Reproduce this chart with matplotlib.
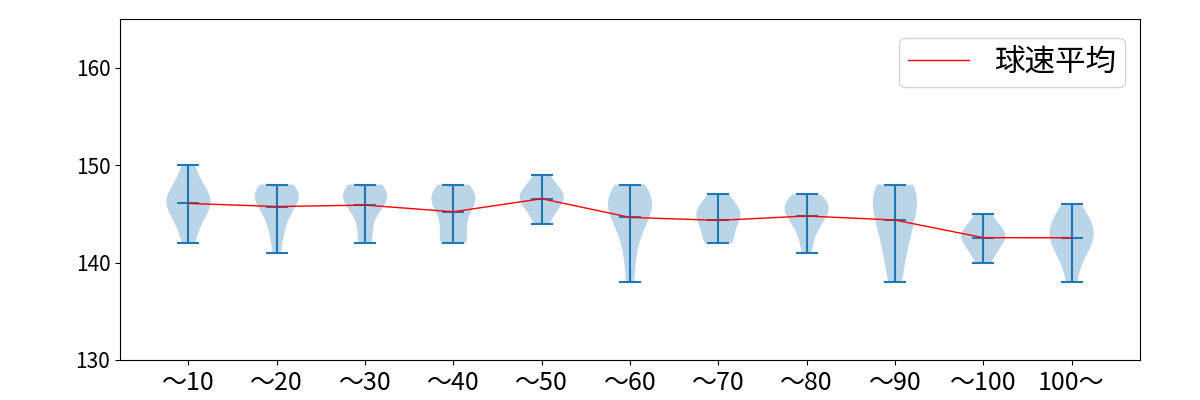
import matplotlib
matplotlib.use("Agg")
import matplotlib.pyplot as plt
import numpy as np

plt.rcParams['font.family'] = ['Noto Sans CJK JP', 'DejaVu Sans']

labels = ["〜10", "〜20", "〜30", "〜40", "〜50", "〜60", "〜70", "〜80", "〜90", "〜100", "100〜"]

s10 = [142, 143, 144, 145, 145, 146, 146, 146, 147, 147, 147, 148, 149, 150]
s20 = [141, 143, 144, 145, 146, 146, 147, 147, 147, 147, 148, 148]
s30 = [142, 143, 145, 146, 146, 147, 147, 147, 148, 148]
s40 = [142, 142, 142, 143, 144, 145, 146, 146, 146, 147, 147, 147, 148, 148]
s50 = [144, 145, 146, 146, 147, 147, 147, 148, 149]
s60 = [138, 141, 143, 144, 145, 146, 146, 146, 147, 147, 148]
s70 = [142, 142, 143, 144, 145, 145, 145, 146, 147]
s80 = [141, 143, 144, 145, 145, 146, 146, 146, 147]
s90 = [138, 140, 142, 143, 144, 145, 146, 147, 147, 148, 148]
s100 = [140, 141, 142, 142, 143, 143, 143, 144, 145]
s101 = [138, 140, 141, 142, 142, 143, 143, 144, 144, 145, 146]

samples = [s10, s20, s30, s40, s50, s60, s70, s80, s90, s100, s101]
means = [np.mean(s) for s in samples]
positions = list(range(1, len(labels) + 1))

fig = plt.figure(figsize=(12, 4), dpi=100)
ax = fig.add_axes([0.1, 0.1, 0.85, 0.8525])
ax.violinplot(samples, positions=positions, showmeans=True)
ax.plot(positions, means, color='red', lw=1, label='球速平均')
ax.set_ylim(130, 165)
ax.set_yticks([130, 140, 150, 160])
ax.set_xticks(positions)
ax.set_xticklabels(labels)
ax.tick_params(axis='y', labelsize=15)
ax.tick_params(axis='x', labelsize=18)
ax.legend(loc='upper right', fontsize=22, borderpad=0.3,
          bbox_to_anchor=(1.0, 0.99))
fig.savefig("out.png", dpi=100)
